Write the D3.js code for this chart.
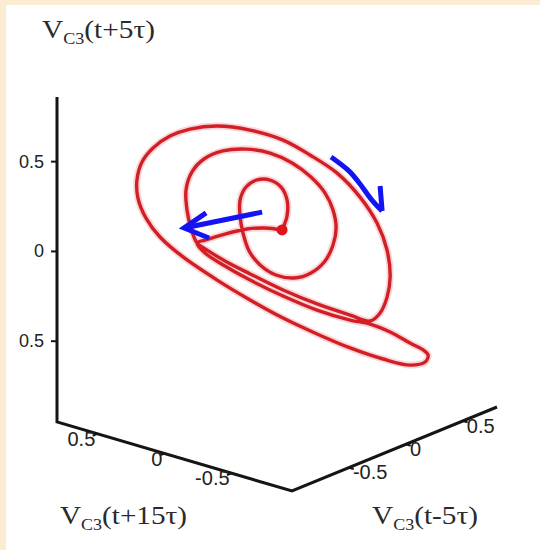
<!DOCTYPE html>
<html>
<head>
<meta charset="utf-8">
<script src="https://cdn.jsdelivr.net/npm/d3@7"></script>
<style>
  html, body { margin: 0; padding: 0; background: #fbecd3; }
  svg { display: block; }
</style>
</head>
<body>
<svg id="chart" width="540" height="550"></svg>
<script>
// Delay-coordinate phase portrait of V_C3 (three embedding axes).
const vertTicks  = [0.5, 0, -0.5];   // V_C3(t+5τ)
const leftTicks  = [0.5, 0, -0.5];   // V_C3(t+15τ)
const rightTicks = [-0.5, 0, 0.5];   // V_C3(t-5τ)
const vertTickLabels  = ["0.5", "0", "-0.5"];
const leftTickLabels  = ["0.5", "0", "-0.5"];
const rightTickLabels = ["-0.5", "0", "0.5"];

// Trajectory samples: V_C3(t+15τ), V_C3(t-5τ), V_C3(t+5τ)
const vPlus15 = [-0.095,-0.027,0.044,0.132,0.211,0.243,0.211,0.132,0.032,-0.099,
  -0.234,-0.366,-0.445,-0.525,-0.604,-0.656,-0.676,-0.664,-0.604,-0.497,
  -0.366,-0.234,-0.099,0.032,0.163,0.299,0.390,0.446,0.478,0.482,
  0.462,0.418,0.350,0.271,0.163,0.032,-0.099,-0.206,-0.314,-0.405,
  -0.473,-0.513,-0.525,-0.513,-0.485,-0.445,-0.366,-0.234,-0.099,0.032,
  0.132,0.203,0.243,0.267,0.283,0.287,0.263,0.215,0.140,0.048,
  -0.047,-0.135,-0.210,-0.266,-0.298,-0.310,-0.298,-0.266,-0.210,-0.143,
  -0.071,-0.008,0.036,0.060,0.072,0.072,0.048,0.004,-0.047,-0.091,
  -0.115,-0.115,-0.095];
const vMinus5 = [-0.079,-0.149,-0.223,-0.313,-0.394,-0.427,-0.394,-0.313,-0.210,-0.075,
  0.064,0.199,0.281,0.363,0.444,0.498,0.518,0.506,0.444,0.334,
  0.199,0.064,-0.075,-0.210,-0.345,-0.484,-0.579,-0.636,-0.669,-0.673,
  -0.652,-0.607,-0.538,-0.456,-0.345,-0.210,-0.075,0.035,0.146,0.240,
  0.309,0.350,0.363,0.350,0.322,0.281,0.199,0.064,-0.075,-0.210,
  -0.313,-0.386,-0.427,-0.452,-0.468,-0.472,-0.448,-0.399,-0.321,-0.227,
  -0.128,-0.038,0.039,0.097,0.129,0.142,0.129,0.097,0.039,-0.030,
  -0.104,-0.169,-0.214,-0.239,-0.251,-0.251,-0.227,-0.182,-0.128,-0.083,
  -0.059,-0.059,-0.079];
const vPlus5 = [0.077,0.091,0.089,0.065,0.035,0.020,-0.037,-0.113,-0.196,-0.291,
  -0.376,-0.438,-0.464,-0.512,-0.577,-0.618,-0.647,-0.686,-0.700,-0.661,
  -0.593,-0.509,-0.414,-0.307,-0.190,-0.055,0.061,0.169,0.282,0.382,
  0.482,0.558,0.621,0.656,0.668,0.639,0.577,0.489,0.383,0.245,
  0.097,-0.055,-0.206,-0.317,-0.404,-0.447,-0.410,-0.342,-0.258,-0.162,
  -0.085,-0.021,0.020,0.105,0.206,0.317,0.417,0.487,0.528,0.534,
  0.507,0.448,0.366,0.274,0.178,0.077,-0.017,-0.104,-0.168,-0.193,
  -0.173,-0.114,-0.034,0.067,0.162,0.251,0.323,0.360,0.357,0.316,
  0.243,0.154,0.077];

// Direction-of-motion arrows, in the same three coordinates
const arrowAShaft = { p: [-0.016, 0.295], q: [-0.161, -0.480], w: [0.180, 0.106] };
const arrowAHead  = { p: [0.207, 0.295, 0.195], q: [-0.390, -0.480, -0.378], w: [0.186, 0.106, 0.046] };
const arrowBShaft = { p: [-0.290, -0.362, -0.405, -0.449, -0.493], q: [0.121, 0.195, 0.240, 0.285, 0.330], w: [0.474, 0.392, 0.318, 0.232, 0.163] };
const arrowBHead  = { p: [-0.493, -0.485], q: [0.330, 0.322], w: [0.163, 0.303] };

const svg = d3.select("#chart");

// background: cream margin with white plotting sheet
svg.append("rect").attr("width", 540).attr("height", 550).attr("fill", "#fbecd3");
svg.append("rect").attr("x", 6).attr("y", 5).attr("width", 534).attr("height", 545).attr("fill", "#ffffff");

// oblique 3-D frame: corner of the two floor axes and their screen vectors
const corner = { x: 292, y: 491 };
const vecP = { x: -235, y: -69 };   // V_C3(t+15τ) floor axis
const vecQ = { x: 205,  y: -84 };   // V_C3(t-5τ) floor axis
const vecW = { x: 0,    y: -325 };  // V_C3(t+5τ) vertical axis

const sP = d3.scaleLinear().domain([-0.95, 0.8]).range([0, 1]);
const sQ = d3.scaleLinear().domain([-1.0, 0.8]).range([0, 1]);
const sW = d3.scaleLinear().domain([-0.95, 0.86]).range([0, 1]);

function project(p, q, w) {
  const a = sP(p), b = sQ(q), c = sW(w);
  return [corner.x + vecP.x * a + vecQ.x * b + vecW.x * c,
          corner.y + vecP.y * a + vecQ.y * b + vecW.y * c];
}

const pMin = sP.domain()[0], pMax = sP.domain()[1];
const qMin = sQ.domain()[0], qMax = sQ.domain()[1];
const wMin = sW.domain()[0], wMax = sW.domain()[1];

const axisColor = "#151515";
const frame = svg.append("g");

// axes: vertical at the far end of the left floor axis
const framePts = [project(pMax, qMin, wMax), project(pMax, qMin, wMin),
                  project(pMin, qMin, wMin), project(pMin, qMax, wMin)];
frame.append("path")
  .attr("d", d3.line()(framePts))
  .attr("fill", "none").attr("stroke", axisColor)
  .attr("stroke-width", 3).attr("stroke-linejoin", "miter");

// clip for the vertical tick labels (sheet edge)
svg.append("clipPath").attr("id", "labClip")
  .append("rect").attr("x", 19).attr("y", 0).attr("width", 521).attr("height", 550);

const tickFont = "'Liberation Sans', Arial, sans-serif";

// vertical axis ticks
const vt = frame.append("g");
vertTicks.forEach((v, i) => {
  const [x, y] = project(pMax, qMin, v);
  vt.append("line").attr("x1", x).attr("y1", y).attr("x2", x - 6).attr("y2", y)
    .attr("stroke", axisColor).attr("stroke-width", 2);
  vt.append("text").attr("x", x - 13).attr("y", y + 6)
    .attr("text-anchor", "end").attr("clip-path", "url(#labClip)")
    .attr("font-family", tickFont).attr("font-size", 18).attr("fill", "#222")
    .text(vertTickLabels[i]);
});

// left floor axis ticks
const lenQ = Math.hypot(vecQ.x, vecQ.y), lenP = Math.hypot(vecP.x, vecP.y);
leftTicks.forEach((v, i) => {
  const [x, y] = project(v, qMin, wMin);
  frame.append("line").attr("x1", x).attr("y1", y)
    .attr("x2", x - 5 * vecQ.x / lenQ).attr("y2", y - 5 * vecQ.y / lenQ)
    .attr("stroke", axisColor).attr("stroke-width", 2);
  frame.append("text").attr("x", x - 2).attr("y", y + 12)
    .attr("text-anchor", "end")
    .attr("font-family", tickFont).attr("font-size", 20).attr("fill", "#222")
    .text(leftTickLabels[i]);
});

// right floor axis ticks
rightTicks.forEach((v, i) => {
  const [x, y] = project(pMin, v, wMin);
  frame.append("line").attr("x1", x).attr("y1", y)
    .attr("x2", x - 5 * vecP.x / lenP).attr("y2", y - 5 * vecP.y / lenP)
    .attr("stroke", axisColor).attr("stroke-width", 2);
  frame.append("text").attr("x", x + 4).attr("y", y + 11.5)
    .attr("text-anchor", "start")
    .attr("font-family", tickFont).attr("font-size", 20).attr("fill", "#222")
    .text(rightTickLabels[i]);
});

// axis titles
const titleFont = "'Liberation Serif', 'Times New Roman', serif";
function axisTitle(x, y, width, arg) {
  const t = svg.append("text").attr("x", x).attr("y", y)
    .attr("font-family", titleFont).attr("font-size", 26).attr("fill", "#2a2a2a")
    .attr("textLength", width).attr("lengthAdjust", "spacingAndGlyphs");
  t.append("tspan").text("V");
  t.append("tspan").attr("font-size", 16).attr("dy", 5.5).text("C3");
  t.append("tspan").attr("dy", -5.5).text(arg);
}
axisTitle(42, 38, 113, "(t+5τ)");
axisTitle(60, 524, 127, "(t+15τ)");
axisTitle(372, 524, 106, "(t-5τ)");

// trajectory
const traj = vPlus15.map((p, i) => project(p, vMinus5[i], vPlus5[i]));
const lineGen = d3.line().curve(d3.curveCatmullRom.alpha(0.5));
svg.append("path").attr("d", lineGen(traj))
  .attr("fill", "none").attr("stroke", "rgba(225,70,80,0.22)")
  .attr("stroke-width", 7).attr("stroke-linejoin", "round");
svg.append("path").attr("d", lineGen(traj))
  .attr("fill", "none").attr("stroke", "#d21f26")
  .attr("stroke-width", 3.4).attr("stroke-linejoin", "round");
svg.append("circle")
  .attr("cx", traj[0][0]).attr("cy", traj[0][1]).attr("r", 5.5)
  .attr("fill", "#e0141a");

// direction arrows
function arrowPts(a) { return a.p.map((p, i) => project(p, a.q[i], a.w[i])); }
const blue = "#1414f2";
const smooth = d3.line().curve(d3.curveCatmullRom.alpha(0.5));
[[arrowAShaft, d3.line()], [arrowAHead, d3.line()],
 [arrowBShaft, smooth], [arrowBHead, d3.line()]].forEach(([a, gen]) => {
  svg.append("path").attr("d", gen(arrowPts(a)))
    .attr("fill", "none").attr("stroke", blue)
    .attr("stroke-width", 5).attr("stroke-linejoin", "miter")
    .attr("stroke-linecap", "butt");
});
</script>
</body>
</html>
